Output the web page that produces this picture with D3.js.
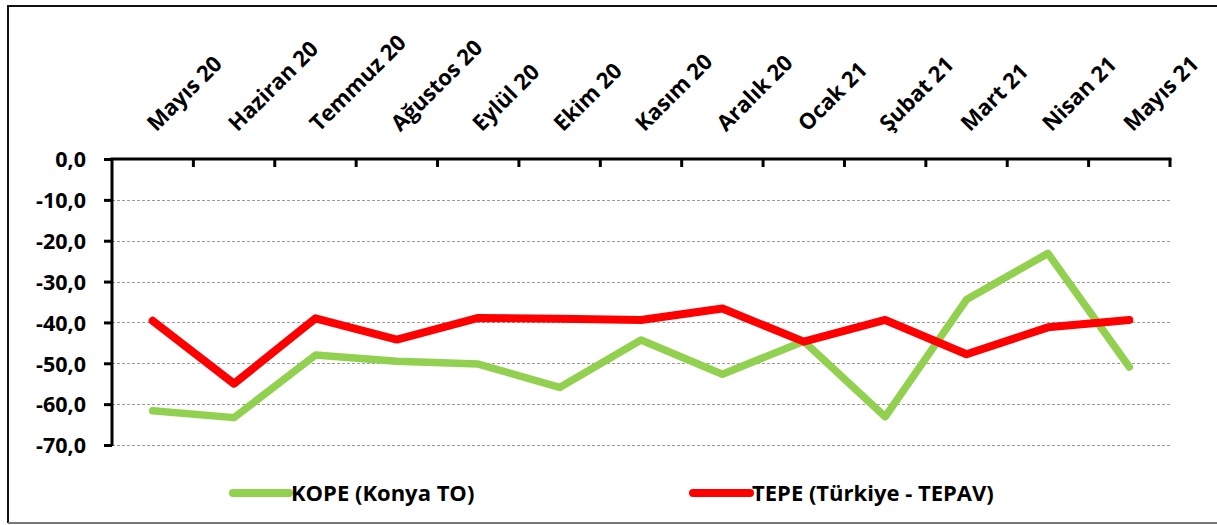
<!DOCTYPE html>
<html><head><meta charset="utf-8">
<script src="https://cdn.jsdelivr.net/npm/d3@7"></script>
<style>
html,body{margin:0;padding:0;background:#fff;}
svg{display:block;}
text{font-family:"Open Sans",sans-serif;font-weight:bold;fill:#000;}
</style></head>
<body>
<svg id="chart" width="1217" height="525"></svg>
<script>
const categories = ["Mayıs 20","Haziran 20","Temmuz 20","Ağustos 20","Eylül 20","Ekim 20","Kasım 20","Aralık 20","Ocak 21","Şubat 21","Mart 21","Nisan 21","Mayıs 21"];
const kope = [-61.6,-63.3,-48.0,-49.5,-50.2,-55.9,-44.3,-52.7,-44.6,-63.1,-34.4,-23.1,-50.9];
const tepe = [-39.6,-55.0,-39.0,-44.2,-38.9,-39.1,-39.4,-36.6,-44.7,-39.4,-47.8,-41.2,-39.4];
const yTicks = [0,-10,-20,-30,-40,-50,-60,-70];
const yTickLabels = ["0,0","-10,0","-20,0","-30,0","-40,0","-50,0","-60,0","-70,0"];
const seriesNames = ["KOPE (Konya TO)","TEPE (Türkiye - TEPAV)"];

const svg = d3.select("#chart");
const x = d3.scaleBand().domain(categories).range([112,1170]).paddingInner(0).paddingOuter(0);
const y = d3.scaleLinear().domain([-70,0]).range([445,159]);

// outer frame
svg.append("line").attr("x1",8).attr("x2",1217).attr("y1",6).attr("y2",6).attr("stroke","#111").attr("stroke-width",2);
svg.append("line").attr("x1",8).attr("x2",8).attr("y1",5).attr("y2",523).attr("stroke","#111").attr("stroke-width",2);
svg.append("line").attr("x1",8).attr("x2",1217).attr("y1",523).attr("y2",523).attr("stroke","#777").attr("stroke-width",2);

// gridlines
svg.append("g").selectAll("line").data(yTicks.filter(d=>d!==0)).join("line")
  .attr("x1",112).attr("x2",1170)
  .attr("y1",d=>Math.round(y(d))+0.5).attr("y2",d=>Math.round(y(d))+0.5)
  .attr("stroke","#9a9a9a").attr("stroke-width",1).attr("stroke-dasharray","3,2");

// y axis
const yAxis = d3.axisLeft(y).tickValues(yTicks).tickSize(8).tickFormat((d,i)=>yTickLabels[i]);
const gy = svg.append("g").attr("transform","translate(112,0)").call(yAxis);
gy.select(".domain").attr("stroke","#000").attr("stroke-width",3).attr("d","M0,159V446");
gy.selectAll(".tick line").attr("stroke","#000").attr("stroke-width",3);
gy.selectAll(".tick text").attr("x",-26).attr("dy","0.36em").style("font-size","21.5px")
  .style("font-family","Open Sans").style("font-weight","bold").attr("fill","#000");

// x axis at top (0 line)
const bounds = d3.range(1, categories.length+1).map(i=>112 + i*x.bandwidth());
svg.append("line").attr("x1",110.5).attr("x2",1171.5).attr("y1",y(0)).attr("y2",y(0))
  .attr("stroke","#000").attr("stroke-width",3);
svg.append("g").selectAll("line").data(bounds).join("line")
  .attr("x1",d=>d).attr("x2",d=>d).attr("y1",y(0)).attr("y2",y(0)+8)
  .attr("stroke","#000").attr("stroke-width",3);

svg.append("g").selectAll("text").data(categories).join("text")
  .attr("transform",d=>`translate(${x(d)+x.bandwidth()/2+3.5},${132.5}) rotate(-45)`)
  .attr("text-anchor","start").style("font-size","22px").text(d=>d);

// lines
const line = d3.line().x((d,i)=>x(categories[i])+x.bandwidth()/2).y(d=>y(d));
svg.append("path").datum(kope).attr("d",line).attr("fill","none")
  .attr("stroke","#92D050").attr("stroke-width",7.5).attr("stroke-linejoin","round").attr("stroke-linecap","round");
svg.append("path").datum(tepe).attr("d",line).attr("fill","none")
  .attr("stroke","#FF0000").attr("stroke-width",8).attr("stroke-linejoin","round").attr("stroke-linecap","round");

// legend
const legend = [{name:seriesNames[0],color:"#92D050",x0:233,x1:289,tx:291},
                {name:seriesNames[1],color:"#FF0000",x0:693,x1:750,tx:752}];
const lg = svg.append("g").selectAll("g").data(legend).join("g");
lg.append("line").attr("x1",d=>d.x0).attr("x2",d=>d.x1).attr("y1",493).attr("y2",493)
  .attr("stroke",d=>d.color).attr("stroke-width",8).attr("stroke-linecap","round");
lg.append("text").attr("x",d=>d.tx).attr("y",501).style("font-size","22px").text(d=>d.name);
</script>
</body></html>
